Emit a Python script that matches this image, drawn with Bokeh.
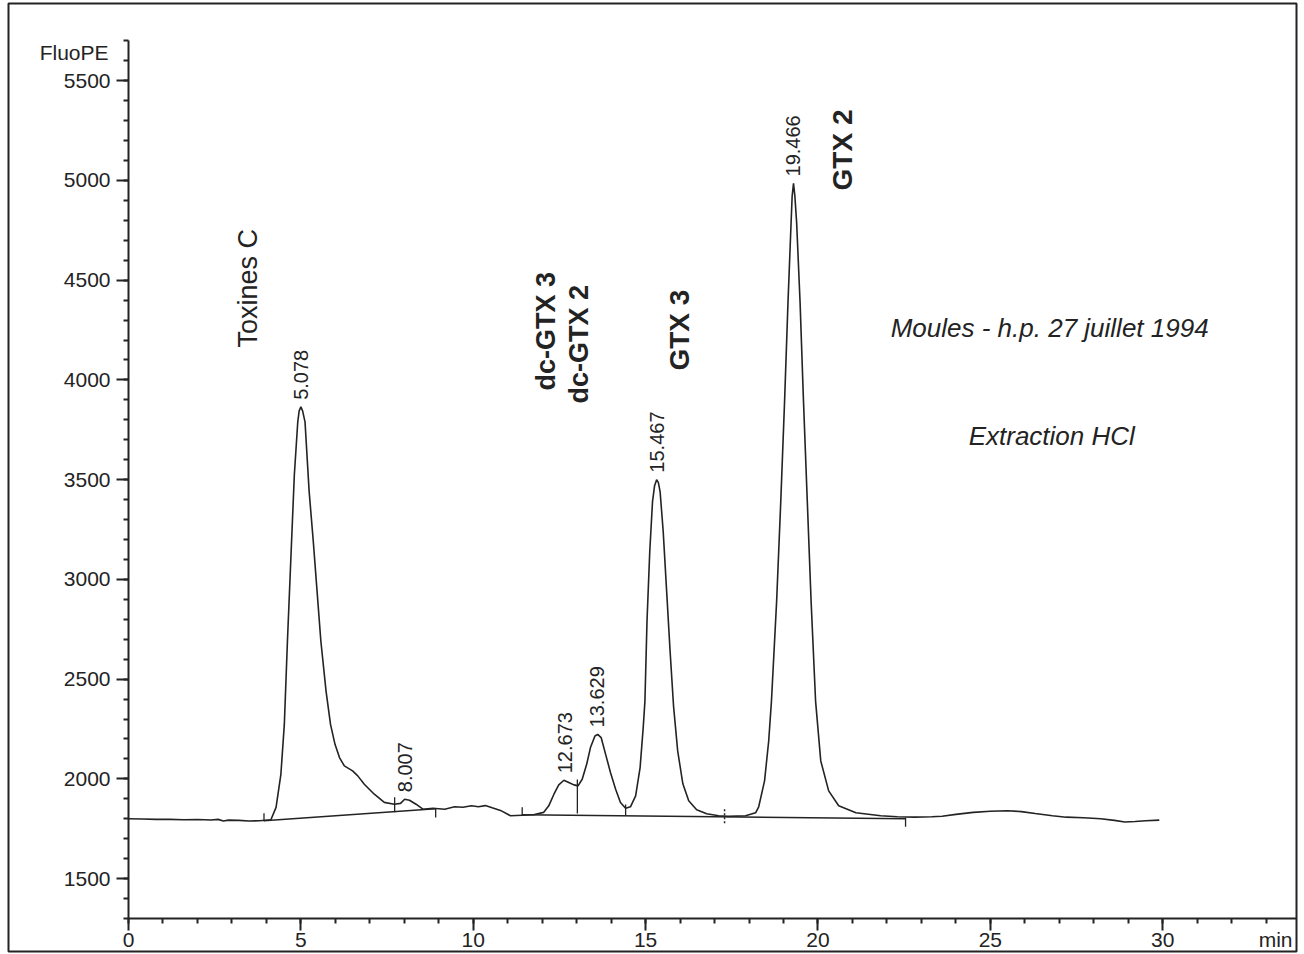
import math
from bokeh.plotting import figure
from bokeh.models import Range1d, SingleIntervalTicker, ColumnDataSource
from bokeh.core.properties import value
from bokeh.embed import file_html
from bokeh.resources import INLINE

# ---------------- data ----------------
time_min = [
    0.00, 0.40, 0.80, 1.20, 1.60, 2.00, 2.40, 2.60, 2.75, 2.90, 3.20, 3.50, 3.80,
    4.13, 4.28, 4.42, 4.52, 4.61, 4.71, 4.81, 4.91, 4.95, 5.00, 5.05, 5.12, 5.24,
    5.36, 5.47, 5.58, 5.73, 5.86, 5.99, 6.12, 6.26, 6.50, 6.65, 6.84, 7.13, 7.42,
    7.71, 7.89, 8.01, 8.15, 8.34, 8.54, 8.83, 9.17, 9.46, 9.70, 9.95, 10.15, 10.35,
    10.55, 10.79, 11.08, 11.42, 11.75, 12.04, 12.19, 12.34, 12.48, 12.63, 12.77,
    12.92, 13.04, 13.16, 13.29, 13.40, 13.53, 13.61, 13.71, 13.84, 13.98, 14.13,
    14.27, 14.42, 14.56, 14.71, 14.84, 14.93, 14.98, 15.04, 15.12, 15.20, 15.26,
    15.32, 15.37, 15.42, 15.51, 15.61, 15.71, 15.81, 15.93, 16.08, 16.25, 16.48,
    16.77, 17.12, 17.40, 17.90, 18.19, 18.28, 18.45, 18.57, 18.65, 18.80, 18.92,
    19.03, 19.13, 19.22, 19.25, 19.29, 19.33, 19.38, 19.48, 19.58, 19.69, 19.80,
    19.93, 20.08, 20.31, 20.60, 21.10, 21.82, 22.30, 22.80, 23.30, 23.60, 24.00,
    24.50, 25.00, 25.50, 25.90, 26.30, 26.80, 27.20, 27.70, 28.20, 28.60, 28.90,
    29.20, 29.50, 29.90,
]
signal = [
    1800, 1799, 1797, 1797, 1795, 1796, 1794, 1797, 1789, 1793, 1792, 1789, 1790,
    1795, 1857, 2023, 2273, 2690, 3107, 3523, 3790, 3845, 3865, 3845, 3790, 3440,
    3190, 2940, 2690, 2440, 2273, 2173, 2107, 2065, 2040, 2015, 1973, 1923, 1882,
    1873, 1877, 1898, 1893, 1873, 1848, 1853, 1848, 1860, 1858, 1865, 1860, 1866,
    1855, 1842, 1815, 1818, 1820, 1832, 1865, 1923, 1970, 1993, 1982,
    1970, 1965, 1998, 2073, 2157, 2215, 2223, 2207, 2123, 2032, 1948,
    1882, 1853, 1860, 1915, 2057, 2257, 2390, 2790, 3140, 3390, 3470,
    3500, 3485, 3440, 3240, 2940, 2640, 2365, 2140, 1975, 1890, 1845,
    1825, 1815, 1812, 1815, 1830, 1860, 1990, 2190, 2390, 2890, 3390,
    3890, 4390, 4790, 4920, 4985, 4920, 4790, 4390, 3890, 3390, 2890,
    2390, 2090, 1940, 1865, 1830, 1815, 1810, 1808, 1810, 1813, 1822,
    1832, 1838, 1840, 1836, 1826, 1815, 1808, 1805, 1800, 1792, 1784,
    1786, 1790, 1793,
]

# retention-time labels printed above the peaks, and the apex each sits on
peak_rt_labels = ["5.078", "8.007", "12.673", "13.629", "15.467", "19.466"]
peak_apex_time = [4.99, 8.01, 12.66, 13.60, 15.32, 19.28]
peak_apex_signal = [3865, 1898, 1993, 2223, 3500, 4985]

# integration baselines (start / end of each)
base_t0 = [3.93, 11.42]
base_v0 = [1790, 1820]
base_t1 = [8.91, 22.54]
base_v1 = [1850, 1800]

# integration event marks
event_t = [3.93, 7.72, 8.91, 11.42, 13.02, 14.42, 22.54]
event_lo = [1788, 1833, 1806, 1816, 1826, 1816, 1760]
event_hi = [1828, 1908, 1851, 1858, 1997, 1871, 1805]
dashed_event_t = [17.29]
dashed_event_lo = [1778]
dashed_event_hi = [1851]

compound_names = ["Toxines C", "dc-GTX 3", "dc-GTX 2", "GTX 3", "GTX 2"]

x_ticks_interval = 5
y_ticks_interval = 500

# ---------------- figure ----------------
INK = "#232323"
FONT = "Liberation Sans"
X_END = 33.88

p = figure(
    width=1304, height=954,
    x_range=Range1d(-3.481, X_END), y_range=Range1d(1134.6, 5887),
    output_backend="svg", toolbar_location=None,
    min_border_left=8, min_border_right=8, min_border_top=3, min_border_bottom=3,
)
p.background_fill_color = "white"
p.border_fill_color = "white"
p.outline_line_color = INK
p.outline_line_width = 2
p.xgrid.visible = False
p.ygrid.visible = False

for ax in (p.xaxis, p.yaxis):
    ax.axis_line_color = INK
    ax.axis_line_width = 2
    ax.major_tick_line_color = INK
    ax.major_tick_line_width = 2
    ax.minor_tick_line_color = INK
    ax.minor_tick_line_width = 2
    ax.major_tick_in = 0
    ax.major_tick_out = 12
    ax.minor_tick_in = 0
    ax.minor_tick_out = 5
    ax.major_label_text_font = FONT
    ax.major_label_text_font_size = "21px"
    ax.major_label_text_color = INK

p.xaxis.ticker = SingleIntervalTicker(interval=x_ticks_interval, num_minor_ticks=5)
p.yaxis.ticker = SingleIntervalTicker(interval=y_ticks_interval, num_minor_ticks=5)
p.xaxis.fixed_location = 1300
p.yaxis.fixed_location = 0
p.xaxis.bounds = (0, X_END)
p.yaxis.bounds = (1300, 5700)
p.xaxis.major_label_standoff = 2
p.yaxis.major_label_standoff = 6

# trace
p.line(time_min, signal, line_color=INK, line_width=1.6)

# integration baselines and marks
p.segment(x0=base_t0, y0=base_v0, x1=base_t1, y1=base_v1, line_color=INK, line_width=1.4)
p.segment(x0=event_t, y0=event_lo, x1=event_t, y1=event_hi, line_color=INK, line_width=1.3)
p.segment(x0=dashed_event_t, y0=dashed_event_lo, x1=dashed_event_t, y1=dashed_event_hi,
          line_color=INK, line_width=1.5, line_dash="2 2")

# retention-time labels
rt_src = ColumnDataSource(dict(x=peak_apex_time, y=peak_apex_signal, t=peak_rt_labels))
p.text(x="x", y="y", text="t", source=rt_src, angle=math.pi / 2, y_offset=-7,
       text_align="left", text_baseline="middle", text_font=value(FONT),
       text_font_size="20px", text_color=INK)

# compound names (positions on the sheet)
name_x = [3.48, 12.10, 13.08, 15.98, 20.71]
name_y = [4162, 3947, 3882, 4047, 4950]
name_style = ["normal", "bold", "bold", "bold", "bold"]
name_size = ["27px", "27px", "27px", "28px", "28px"]
for nm, nx, ny, st, sz in zip(compound_names, name_x, name_y, name_style, name_size):
    p.text(x=[nx], y=[ny], text=[nm], angle=math.pi / 2, text_align="left",
           text_baseline="middle", text_font=value(FONT), text_font_style=st,
           text_font_size=sz, text_color=INK)

# sample description
p.text(x=[26.72], y=[4258], text=["Moules - h.p. 27 juillet 1994"], text_align="center",
       text_baseline="alphabetic", text_font=value(FONT), text_font_style="italic",
       text_font_size="26px", text_color=INK)
p.text(x=[26.78], y=[3721], text=["Extraction HCl"], text_align="center",
       text_baseline="alphabetic", text_font=value(FONT), text_font_style="italic",
       text_font_size="26px", text_color=INK)

# axis titles
p.text(x=[0], y=[5641], text=["FluoPE"], x_offset=-20, text_align="right",
       text_baseline="middle", text_font=value(FONT), text_font_size="21px", text_color=INK)
p.text(x=[X_END], y=[1300], text=["min"], x_offset=-4, y_offset=21, text_align="right",
       text_baseline="middle", text_font=value(FONT), text_font_size="21px", text_color=INK)

open("out.html", "w").write(file_html(p, INLINE))
